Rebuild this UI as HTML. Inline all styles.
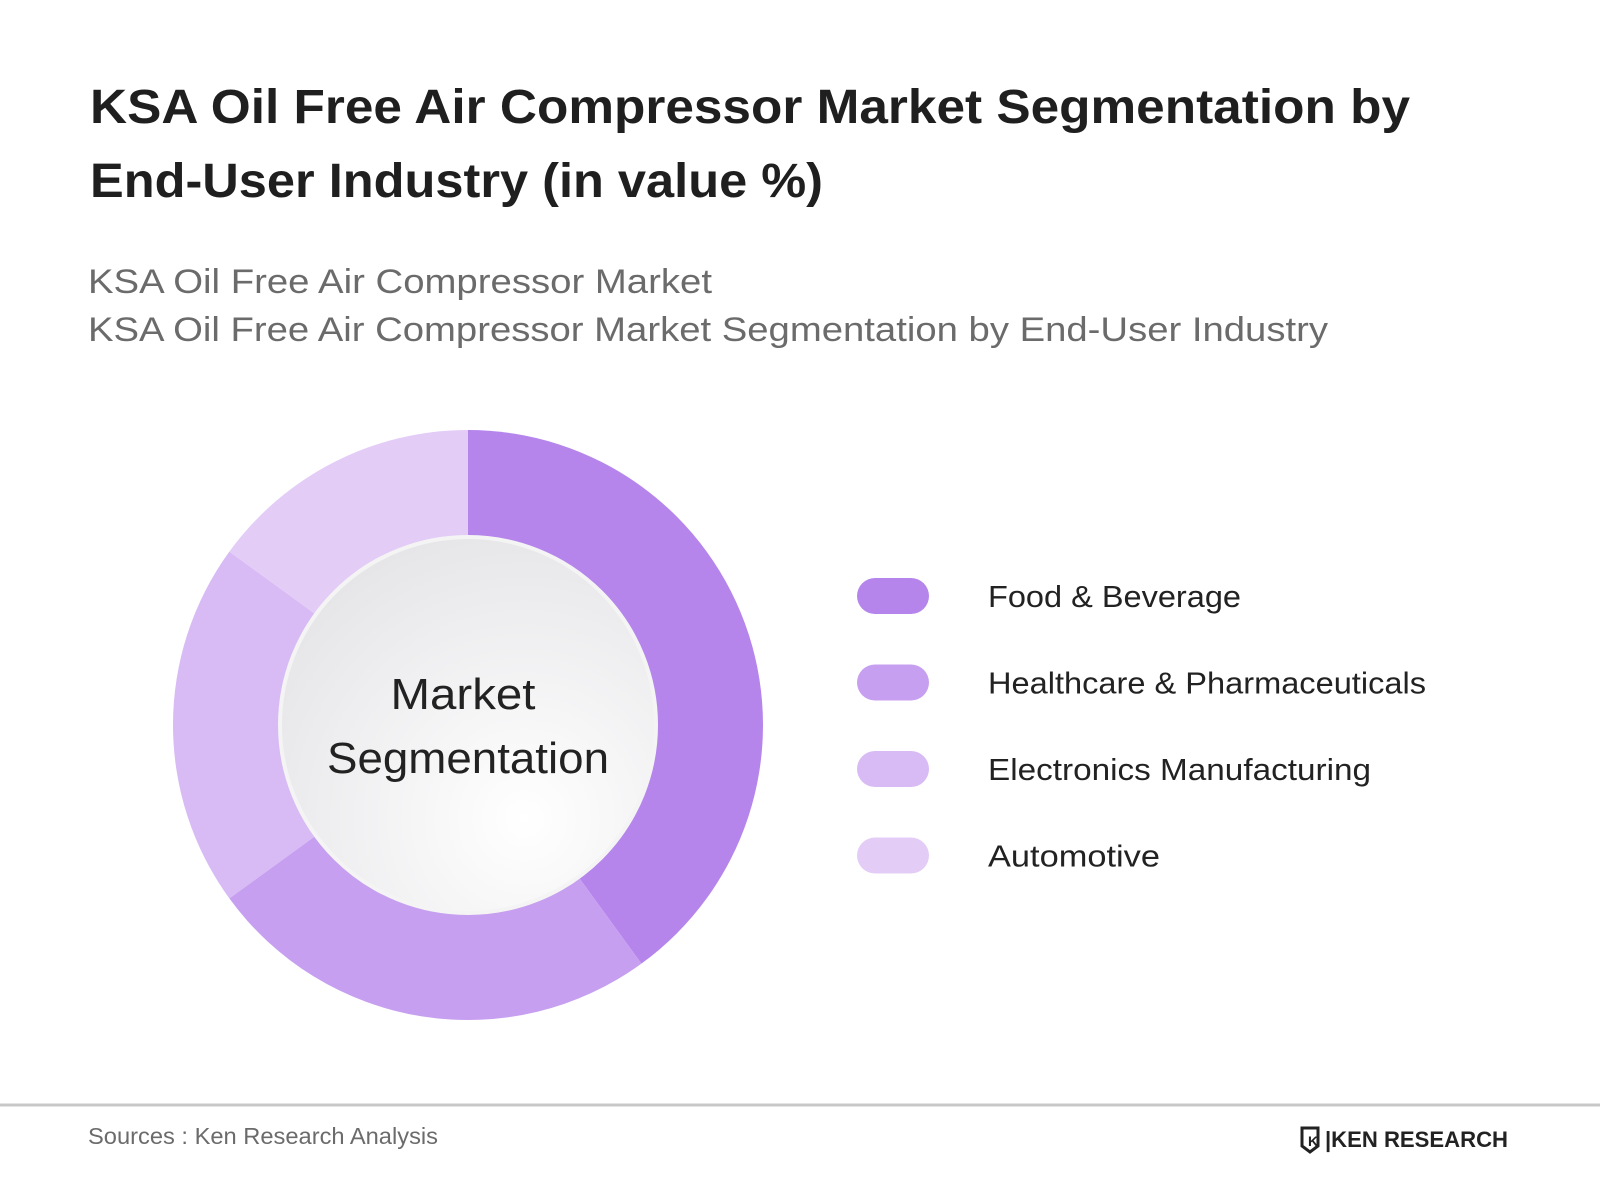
<!DOCTYPE html>
<html><head><meta charset="utf-8"><style>
html,body{margin:0;padding:0;background:#fff;}
svg{display:block;font-family:"Liberation Sans",sans-serif;}
</style></head><body>
<svg width="1600" height="1200" viewBox="0 0 1600 1200">
<defs>
<radialGradient id="cg" cx="0.65" cy="0.75" r="0.85">
<stop offset="0" stop-color="#ffffff"/><stop offset="1" stop-color="#e4e4e7"/>
</radialGradient>
</defs>
<text x="90" y="123" font-size="48" font-weight="bold" fill="#1f1f1f" textLength="1320" lengthAdjust="spacingAndGlyphs">KSA Oil Free Air Compressor Market Segmentation by</text>
<text x="90" y="197" font-size="48" font-weight="bold" fill="#1f1f1f" textLength="733" lengthAdjust="spacingAndGlyphs">End-User Industry (in value %)</text>
<text x="88" y="293" font-size="34" fill="#6b6b6b" textLength="624" lengthAdjust="spacingAndGlyphs">KSA Oil Free Air Compressor Market</text>
<text x="88" y="341" font-size="34" fill="#6b6b6b" textLength="1240" lengthAdjust="spacingAndGlyphs">KSA Oil Free Air Compressor Market Segmentation by End-User Industry</text>
<g id="donut"></g>
<circle cx="468" cy="725" r="188" fill="url(#cg)" stroke="#f4f4f4" stroke-width="4"/>
<text x="463" y="709" font-size="44" text-anchor="middle" fill="#222" textLength="145" lengthAdjust="spacingAndGlyphs">Market</text>
<text x="468" y="773" font-size="44" text-anchor="middle" fill="#222" textLength="282" lengthAdjust="spacingAndGlyphs">Segmentation</text>
<g id="legend"></g>
<line x1="0" y1="1105" x2="1600" y2="1105" stroke="#c8c8c8" stroke-width="3"/>
<text x="88" y="1144" font-size="23" fill="#6b6b6b" textLength="350" lengthAdjust="spacingAndGlyphs">Sources : Ken Research Analysis</text>
<g>
<path d="M1302 1128 h16 v18 l-8 6 l-8 -6 z" fill="none" stroke="#222" stroke-width="3"/>
<text x="1308" y="1146" font-size="14" font-weight="bold" fill="#222">K</text>
<text x="1325" y="1147" font-size="22" font-weight="bold" fill="#222" textLength="183" lengthAdjust="spacingAndGlyphs">|KEN RESEARCH</text>
</g>
</svg>
<script>
const categories=["Food & Beverage","Healthcare & Pharmaceuticals","Electronics Manufacturing","Automotive"];
const values=[40,25,20,15];
const colors=["#b585ec","#c79ff0","#d8baf5","#e3cdf7"];
const labelWidths=[253,438,383,172];
const ns="http://www.w3.org/2000/svg";
const cx=468,cy=725,R=295;
const total=values.reduce((a,b)=>a+b,0);
const donut=document.getElementById('donut');
let a0=0;
function pt(a){return [cx+R*Math.sin(a),cy-R*Math.cos(a)];}
values.forEach((v,i)=>{
  const a1=a0+v/total*2*Math.PI;
  const p0=pt(a0),p1=pt(a1);
  const large=(a1-a0)>Math.PI?1:0;
  const p=document.createElementNS(ns,'path');
  p.setAttribute('d',`M${cx},${cy} L${p0[0]},${p0[1]} A${R},${R} 0 ${large} 1 ${p1[0]},${p1[1]} Z`);
  p.setAttribute('fill',colors[i]);
  
  
  donut.appendChild(p);
  a0=a1;
});
const legend=document.getElementById('legend');
categories.forEach((c,i)=>{
  const y=596+i*86.5;
  const r=document.createElementNS(ns,'rect');
  r.setAttribute('x',857);r.setAttribute('y',y-18);r.setAttribute('width',72);r.setAttribute('height',36);
  r.setAttribute('rx',18);r.setAttribute('fill',colors[i]);
  
  
  legend.appendChild(r);
  const t=document.createElementNS(ns,'text');
  t.setAttribute('x',988);t.setAttribute('y',y+11);t.setAttribute('font-size',31);t.setAttribute('fill','#222');
  t.setAttribute('textLength',labelWidths[i]);t.setAttribute('lengthAdjust','spacingAndGlyphs');
  t.textContent=c;
  
  
  legend.appendChild(t);
});
</script>
</body></html>
